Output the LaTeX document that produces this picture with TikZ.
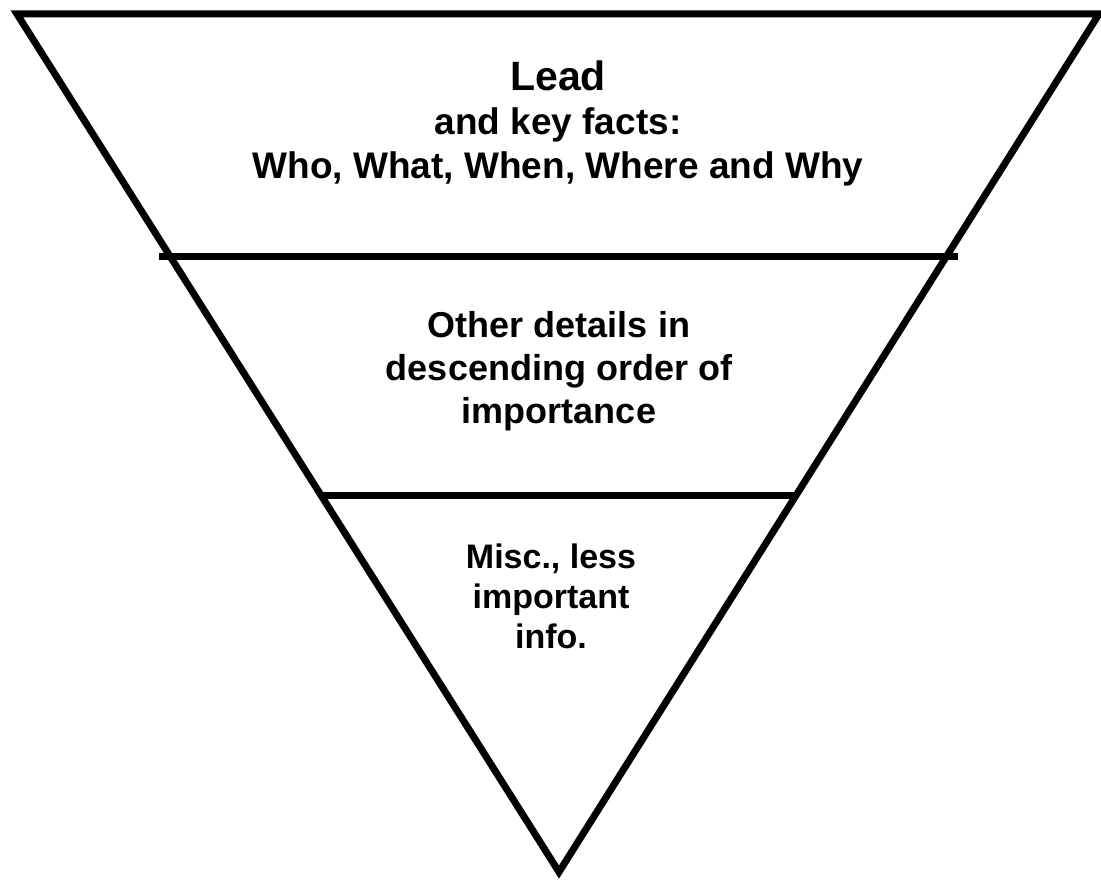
\documentclass[tikz,border=0pt]{standalone}
\usepackage{fontspec}
\setmainfont{Liberation Sans}
\tikzset{
  outline/.style={draw, line width=7pt, line join=miter},
  divider/.style={draw, line width=7pt},
  tiertext/.style={font=\bfseries\fontsize{36}{43}\selectfont, align=center, inner sep=0pt},
  smalltier/.style={font=\bfseries\fontsize{34}{40}\selectfont, align=center, inner sep=0pt}
}

\begin{document}
\begin{tikzpicture}[x=1pt, y=-1pt]
  \useasboundingbox (0,0) rectangle (1101,880);
  % corners of the funnel
  \coordinate (tl) at (17,14);
  \coordinate (tr) at (1099,14);
  \coordinate (apex) at (559,872);
  % ends of the two cross lines
  \coordinate (upL) at (159,256);
  \coordinate (upR) at (958,256);
  \coordinate (loL) at (321,495);
  \coordinate (loR) at (797,495);

  \draw[outline] (tl) -- (tr) -- (apex) -- cycle;
  \draw[divider] (upL) -- (upR);
  \draw[divider] (loL) -- (loR);

  \node[tiertext, font=\bfseries\fontsize{37}{44}\selectfont] (lead) at (558,123)
    {{\fontsize{41}{44}\selectfont Lead}\\ and key facts:\\ Who, What, When, Where and Why};
  \node[tiertext] (details) at (559,371) {Other details in\\ descending order of\\ importance};
  \node[smalltier] (misc) at (551,596) {Misc., less\\ important\\ info.};
\end{tikzpicture}
\end{document}
